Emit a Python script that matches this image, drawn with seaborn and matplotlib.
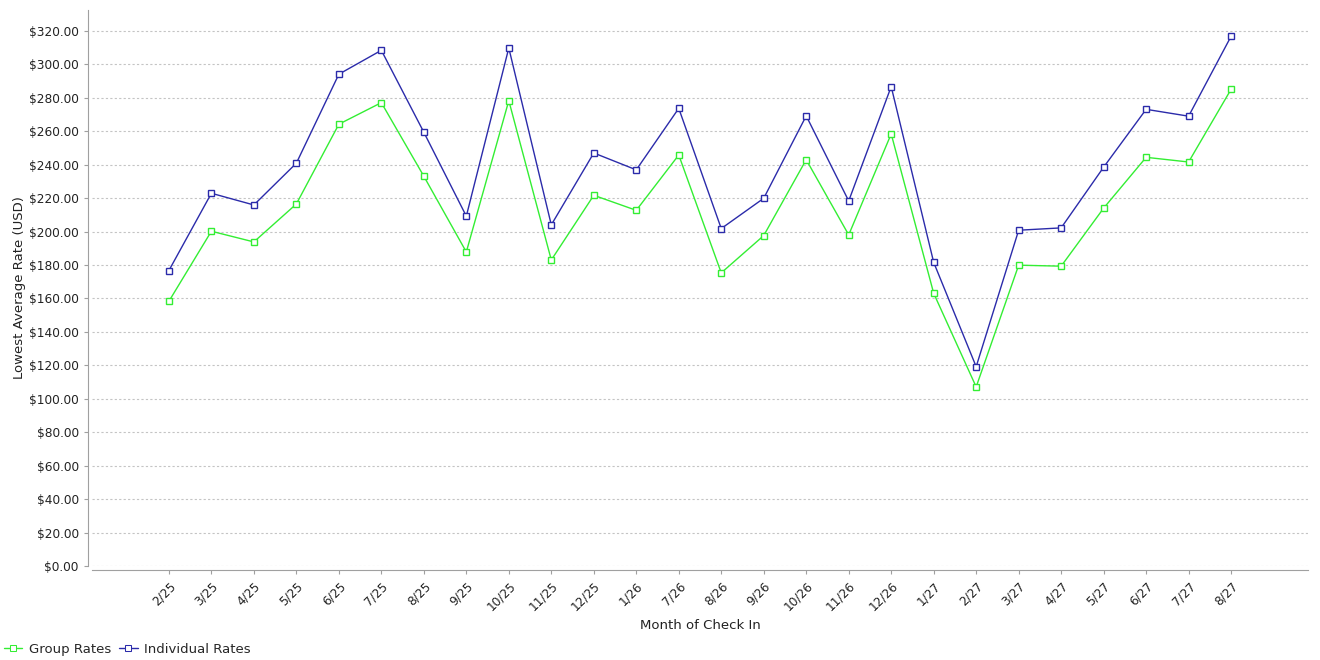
import numpy as np
import pandas as pd
import matplotlib
matplotlib.use('Agg')
import matplotlib.pyplot as plt
import seaborn as sns
from matplotlib.ticker import FuncFormatter, MultipleLocator

# dados
meses = ['2/25', '3/25', '4/25', '5/25', '6/25', '7/25', '8/25', '9/25', '10/25',
         '11/25', '12/25', '1/26', '7/26', '8/26', '9/26', '10/26', '11/26', '12/26',
         '1/27', '2/27', '3/27', '4/27', '5/27', '6/27', '7/27', '8/27']
group_rates = [158.3, 200.2, 193.8, 216.5, 264.2, 277.1, 233.1, 187.8, 278.3,
               183.0, 221.7, 212.7, 245.8, 175.3, 197.6, 243.0, 198.0, 258.4,
               163.1, 107.1, 179.9, 179.3, 214.0, 244.4, 241.6, 285.1]
individual_rates = [176.7, 222.9, 215.9, 240.9, 294.1, 308.4, 259.4, 209.2, 309.8,
                    204.0, 247.0, 236.9, 273.7, 201.8, 219.9, 269.2, 218.3, 286.7,
                    181.6, 119.2, 200.8, 202.2, 238.5, 273.1, 269.0, 316.8]

df = pd.DataFrame({
    'Mes': meses * 2,
    'Valor': group_rates + individual_rates,
    'Serie': ['Group Rates'] * len(meses) + ['Individual Rates'] * len(meses),
})

sns.set_style('white')
plt.rcParams['font.family'] = ['DejaVu Sans']

fig = plt.figure(figsize=(13.2, 6.6), dpi=100)
ax = fig.add_axes([92 / 1320, (660 - 566) / 660, (1308 - 92) / 1320, (566 - 10) / 660])

cores = {'Group Rates': '#33ee33', 'Individual Rates': '#2b2baa'}
sns.lineplot(data=df, x='Mes', y='Valor', hue='Serie', palette=cores, sort=False,
             style='Serie', markers=['s', 's'], dashes=False, linewidth=1,
             markersize=4.5, ax=ax)

# marcadores quadrados vazados, com a borda na cor da linha
for linha in ax.lines:
    linha.set_markerfacecolor('white')
    linha.set_markeredgecolor(linha.get_color())
    linha.set_markeredgewidth(1)

ax.set_xlim(-1.81, len(meses) - 1 + 1.81)
ax.set_ylim(0, 332.5)
ax.yaxis.set_major_locator(MultipleLocator(20))
ax.yaxis.set_major_formatter(FuncFormatter(lambda v, p: '${:,.2f}'.format(v)))
ax.grid(axis='y', linestyle=(0, (2, 2)), color='#c4c4c4', linewidth=0.8)
ax.grid(axis='x', visible=False)

for lado in ['top', 'right']:
    ax.spines[lado].set_visible(False)
for lado in ['left', 'bottom']:
    ax.spines[lado].set_color('#a0a0a0')
    ax.spines[lado].set_linewidth(0.8)
    ax.spines[lado].set_position(('outward', 3))

ax.tick_params(axis='both', which='major', length=3, width=0.8, color='#a0a0a0',
               labelsize=8.7, labelcolor='#222222', direction='out', bottom=True, left=True)
plt.setp(ax.get_xticklabels(), rotation=45, ha='right', rotation_mode='anchor')

ax.set_xlabel('Month of Check In', fontsize=9.5, color='#222222', labelpad=4)
ax.set_ylabel('Lowest Average Rate (USD)', fontsize=9.5, color='#222222', labelpad=2)

sns.move_legend(ax, 'lower left', bbox_to_anchor=(0.0, 0.0), bbox_transform=fig.transFigure,
                ncol=2, frameon=False, title=None, fontsize=9.5, handlelength=1.4,
                handletextpad=0.5, columnspacing=0.6, borderaxespad=0.2, borderpad=0.1)

for handle in ax.get_legend().legend_handles:
    handle.set_markerfacecolor('white')
    handle.set_markeredgecolor(handle.get_color())

fig.savefig('out.png', dpi=100)
